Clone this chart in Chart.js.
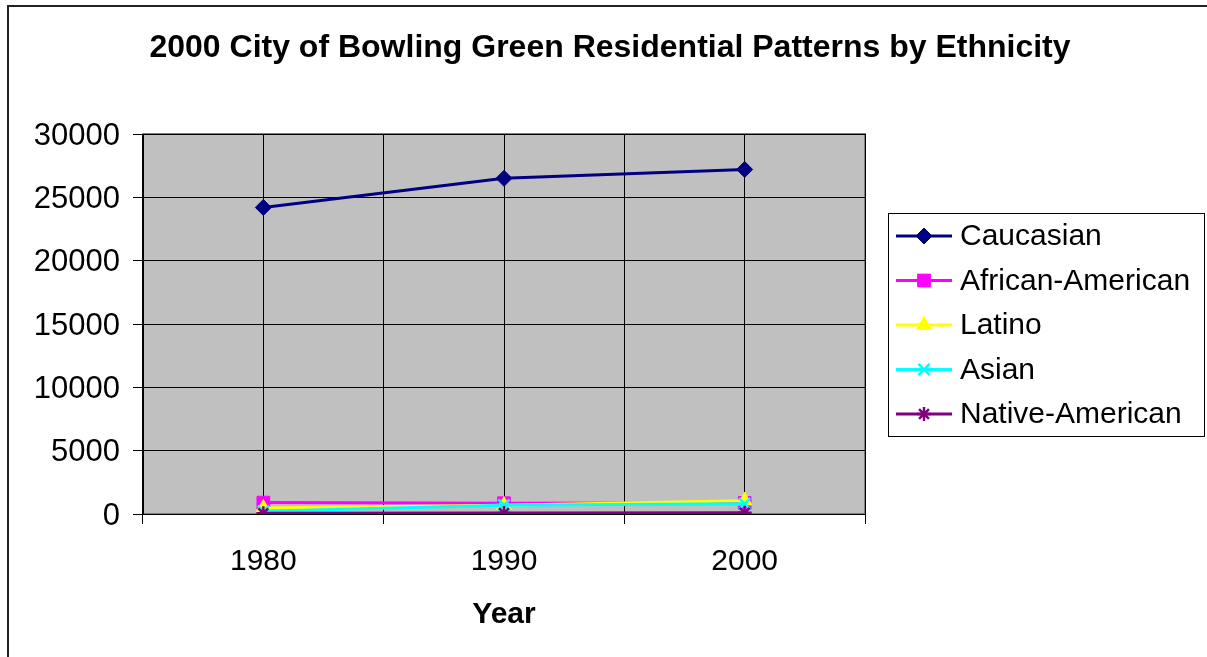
<!DOCTYPE html>
<html>
<head>
<meta charset="utf-8">
<title>2000 City of Bowling Green Residential Patterns by Ethnicity</title>
<script src="https://cdn.jsdelivr.net/npm/chart.js@4.4.1/dist/chart.umd.min.js"></script>
<style>
  html, body { margin: 0; padding: 0; background: #ffffff; }
  #wrap { width: 1207px; height: 657px; position: relative; }
</style>
</head>
<body>
<div id="wrap"><canvas id="c" width="1207" height="657"></canvas></div>
<script>
// Census counts by group
const years = ['1980', '1990', '2000'];
const caucasian = [24200, 26500, 27200];
const africanAmerican = [900, 850, 870];
const latino = [470, 700, 1050];
const asian = [220, 700, 800];
const nativeAmerican = [60, 80, 90];

const seriesNames = ['Caucasian', 'African-American', 'Latino', 'Asian', 'Native-American'];
const seriesValues = [caucasian, africanAmerican, latino, asian, nativeAmerican];
const seriesColors = ['#000080', '#FF00FF', '#FFFF00', '#00FFFF', '#800080'];
const seriesMarkers = ['rectRot', 'rect', 'triangle', 'crossRot', 'star'];
const markerSizes = [8, 9, 8.5, 8, 7];

const FONT = '"Liberation Sans", Arial, sans-serif';

const datasets = seriesNames.map((name, i) => ({
  label: name,
  data: seriesValues[i],
  borderColor: seriesColors[i],
  backgroundColor: seriesColors[i],
  pointBackgroundColor: seriesColors[i],
  pointBorderColor: seriesColors[i],
  pointStyle: seriesMarkers[i],
  pointRadius: markerSizes[i],
  pointBorderWidth: (seriesMarkers[i] === 'crossRot' || seriesMarkers[i] === 'star') ? 2.5 : 1,
  borderWidth: 3,
  tension: 0,
  fill: false,
  order: seriesNames.length - 1 - i
}));

// Frame, plot background and plot border
const framePlugin = {
  id: 'frame',
  beforeDraw(chart) {
    const { ctx, chartArea: a } = chart;
    ctx.save();
    ctx.fillStyle = '#ffffff';
    ctx.fillRect(0, 0, chart.width, chart.height);
    ctx.strokeStyle = '#222222';
    ctx.lineWidth = 2;
    ctx.strokeRect(8, 6, chart.width + 20, chart.height + 20);
    ctx.fillStyle = '#C0C0C0';
    ctx.fillRect(a.left, a.top, a.right - a.left, a.bottom - a.top);
    ctx.strokeStyle = '#808080';
    ctx.lineWidth = 2;
    ctx.strokeRect(a.left, a.top, a.right - a.left, a.bottom - a.top);
    ctx.restore();
  }
};

// Boxed legend on the right with line + marker samples
const sideLegend = {
  id: 'sideLegend',
  afterDraw(chart) {
    const ctx = chart.ctx;
    const bx = 888.5, by = 213.5, bw = 316, bh = 223;
    ctx.save();
    ctx.fillStyle = '#ffffff';
    ctx.fillRect(bx, by, bw, bh);
    ctx.strokeStyle = '#000000';
    ctx.lineWidth = 1;
    ctx.strokeRect(bx, by, bw, bh);
    ctx.font = '30px ' + FONT;
    ctx.textBaseline = 'middle';
    ctx.textAlign = 'left';
    chart.data.datasets.forEach((ds, i) => {
      const y = 236 + i * 44.5;
      ctx.strokeStyle = ds.borderColor;
      ctx.lineWidth = 3;
      ctx.beginPath();
      ctx.moveTo(896, y);
      ctx.lineTo(952, y);
      ctx.stroke();
      ctx.fillStyle = ds.pointBackgroundColor;
      ctx.strokeStyle = ds.pointBorderColor;
      ctx.lineWidth = ds.pointBorderWidth;
      Chart.helpers.drawPoint(ctx, {
        pointStyle: ds.pointStyle,
        radius: ds.pointRadius,
        rotation: 0,
        borderWidth: ds.pointBorderWidth
      }, 924, y);
      ctx.fillStyle = '#000000';
      ctx.fillText(ds.label, 960, y + 1);
    });
    ctx.restore();
  }
};

new Chart(document.getElementById('c'), {
  type: 'line',
  data: { labels: years, datasets },
  plugins: [framePlugin, sideLegend],
  options: {
    responsive: false,
    animation: false,
    devicePixelRatio: 1,
    layout: { padding: { left: 13, right: 0, top: 0, bottom: 0 } },
    plugins: {
      legend: { display: false },
      tooltip: { enabled: false },
      title: {
        display: true,
        text: '2000 City of Bowling Green Residential Patterns by Ethnicity',
        color: '#000000',
        font: { family: FONT, size: 32, weight: 'bold' },
        padding: { top: 29, bottom: 66.6 }
      }
    },
    scales: {
      x: {
        type: 'category',
        offset: true,
        grid: {
          offset: true,
          color: '#000000',
          lineWidth: 1,
          tickLength: 10,
          tickColor: '#000000',
          drawOnChartArea: true
        },
        border: { display: true, color: '#000000', width: 1 },
        ticks: {
          color: '#000000',
          font: { family: FONT, size: 30 },
          padding: 20,
          maxRotation: 0
        },
        title: {
          display: true,
          text: 'Year',
          color: '#000000',
          font: { family: FONT, size: 30, weight: 'bold' },
          padding: { top: 0, bottom: 24 }
        },
        afterFit(scale) { scale.height = 143; }
      },
      xCenters: {
        type: 'category',
        position: 'bottom',
        offset: true,
        grid: { offset: false, color: '#000000', lineWidth: 1, drawTicks: false },
        border: { display: false },
        ticks: { display: false },
        afterFit(scale) { scale.height = 0; }
      },
      y: {
        min: 0,
        max: 30000,
        ticks: {
          stepSize: 5000,
          color: '#000000',
          font: { family: FONT, size: 31 },
          padding: 13,
          labelOffset: 2,
          callback: (v) => String(v)
        },
        grid: { color: '#000000', lineWidth: 1, tickLength: 10, tickColor: '#000000' },
        border: { display: true, color: '#000000', width: 1 },
        afterFit(scale) { scale.width = 130; }
      },
      // empty right-hand strip that holds the legend box
      legendSpace: {
        type: 'linear',
        position: 'right',
        min: 0,
        max: 1,
        grid: { drawOnChartArea: false, drawTicks: false },
        border: { display: false },
        ticks: { display: false },
        afterFit(scale) { scale.width = 342; }
      }
    }
  }
});
</script>
</body>
</html>
